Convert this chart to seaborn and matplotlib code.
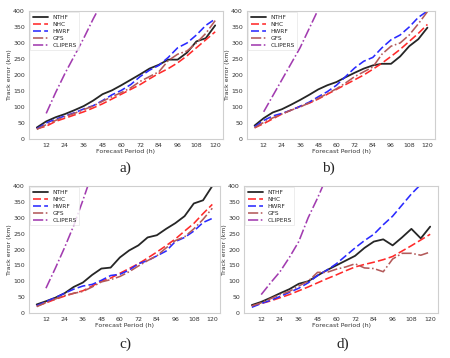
import numpy as np
import pandas as pd
import matplotlib
matplotlib.use("Agg")
import matplotlib.pyplot as plt
import seaborn as sns

hours = [6, 12, 18, 24, 30, 36, 42, 48, 54, 60, 66, 72, 78, 84, 90, 96, 102, 108, 114, 120]
clip_hours = [12, 18, 24, 30, 36, 42, 48, 54]
models = ["NTHF", "NHC", "HWRF", "GFS", "CLIPERS"]
panel_labels = ["a)", "b)", "c)", "d)"]

# Panel a
a_nthf = [36, 55, 68, 78, 90, 103, 120, 140, 152, 168, 185, 202, 220, 232, 248, 248, 270, 305, 315, 355]
a_nhc = [32, 40, 55, 65, 75, 85, 97, 110, 125, 140, 155, 170, 188, 205, 220, 238, 260, 285, 310, 335]
a_hwrf = [32, 50, 62, 72, 82, 94, 104, 120, 138, 152, 170, 195, 215, 230, 255, 285, 300, 325, 355, 375]
a_gfs = [30, 45, 58, 70, 80, 92, 103, 118, 132, 145, 160, 180, 195, 210, 245, 265, 275, 300, 330, 370]
a_clip = [80, 145, 205, 260, 315, 375, 430, 490]

# Panel b
b_nthf = [42, 65, 83, 93, 107, 122, 138, 155, 168, 178, 193, 207, 220, 230, 235, 235, 258, 290, 312, 348]
b_nhc = [35, 48, 63, 78, 90, 102, 112, 125, 140, 155, 170, 185, 200, 218, 237, 258, 280, 305, 330, 358]
b_hwrf = [38, 58, 72, 80, 90, 102, 115, 132, 148, 168, 195, 222, 243, 255, 285, 310, 325, 350, 380, 400]
b_gfs = [35, 52, 66, 78, 90, 100, 113, 127, 142, 157, 175, 195, 210, 225, 265, 290, 300, 325, 360, 398]
b_clip = [85, 135, 185, 235, 285, 345, 405, 465]

# Panel c
c_nthf = [27, 37, 48, 62, 82, 96, 120, 140, 143, 175, 197, 213, 238, 245, 265, 283, 305, 345, 355, 400]
c_nhc = [22, 32, 43, 53, 62, 70, 85, 100, 110, 125, 140, 155, 173, 192, 212, 233, 258, 282, 313, 342]
c_hwrf = [23, 36, 48, 62, 75, 85, 90, 103, 118, 122, 135, 155, 165, 180, 195, 225, 238, 258, 285, 298]
c_gfs = [20, 33, 44, 55, 62, 68, 82, 98, 105, 115, 130, 148, 165, 180, 205, 228, 240, 265, 295, 330]
c_clip = [78, 140, 205, 275, 355, 440, 520, 600]

# Panel d
d_nthf = [25, 35, 48, 62, 75, 92, 100, 118, 135, 150, 165, 180, 205, 225, 232, 213, 238, 265, 235, 272]
d_nhc = [22, 30, 38, 48, 58, 70, 82, 95, 108, 120, 133, 145, 153, 160, 168, 178, 195, 212, 230, 248]
d_hwrf = [18, 30, 40, 52, 65, 78, 95, 118, 135, 155, 180, 205, 228, 248, 278, 305, 340, 375, 405, 435]
d_gfs = [22, 32, 45, 58, 68, 85, 100, 128, 128, 138, 145, 155, 142, 140, 130, 170, 188, 188, 182, 192]
d_clip = [58, 95, 130, 175, 225, 300, 362, 430]

panels = [
    (a_nthf, a_nhc, a_hwrf, a_gfs, a_clip),
    (b_nthf, b_nhc, b_hwrf, b_gfs, b_clip),
    (c_nthf, c_nhc, c_hwrf, c_gfs, c_clip),
    (d_nthf, d_nhc, d_hwrf, d_gfs, d_clip),
]

xticks = [12, 24, 36, 48, 60, 72, 84, 96, 108, 120]
yticks = [0, 50, 100, 150, 200, 250, 300, 350, 400]

sns.set_style("white")
plt.rcParams["font.family"] = ["DejaVu Sans"]

W, H = 450, 358
fig = plt.figure(figsize=(W / 100, H / 100), dpi=100)

# axes rectangles in pixels: left, top, right, bottom
rects = [(29, 11, 223, 139), (247, 11, 435, 139), (29, 186, 220, 313), (244, 186, 438, 313)]
cap_pos = [(125, 168), (328, 168), (125, 344), (343, 344)]

styles = {
    "NTHF": dict(color="#262626", ls="-", lw=1.3),
    "NHC": dict(color="#ff2a2a", ls=(0, (5, 2)), lw=1.15),
    "HWRF": dict(color="#2a2aff", ls=(0, (5, 2)), lw=1.15),
    "GFS": dict(color="#b35a5a", ls="-.", lw=1.15),
    "CLIPERS": dict(color="#a23cb0", ls="-.", lw=1.15),
}

for i, (series, rect, cp) in enumerate(zip(panels, rects, cap_pos)):
    l, t, r, b = rect
    ax = fig.add_axes([l / W, 1 - b / H, (r - l) / W, (b - t) / H])
    for name, vals in zip(models, series):
        xs = clip_hours if name == "CLIPERS" else hours
        df = pd.DataFrame({"h": xs, "err": vals})
        st = styles[name]
        sns.lineplot(data=df, x="h", y="err", ax=ax, color=st["color"],
                     linestyle=st["ls"], linewidth=st["lw"], label=name)
    ax.set_xlim(1, 125)
    ax.set_ylim(0, 400)
    ax.set_xticks(xticks)
    ax.set_yticks(yticks)
    ax.tick_params(axis="both", labelsize=4.5, length=2, width=0.5, pad=1, colors="#333333")
    ax.set_xlabel("Forecast Period (h)", fontsize=4.5, labelpad=0.5, color="#333333")
    ax.set_ylabel("Track error (km)", fontsize=4.5, labelpad=1, color="#333333")
    for sp in ax.spines.values():
        sp.set_color("#cfcfcf")
        sp.set_linewidth(0.8)
    leg = ax.legend(loc="upper left", fontsize=4.2, frameon=True, handlelength=2.6,
                    labelspacing=0.35, borderpad=0.4, handletextpad=0.8,
                    borderaxespad=0.2, fancybox=False)
    leg.get_frame().set_edgecolor("#e0e0e0")
    leg.get_frame().set_linewidth(0.5)
    fig.text(cp[0] / W, 1 - cp[1] / H, panel_labels[i], ha="center", va="center",
             fontsize=11, family=["Liberation Serif", "DejaVu Serif"])

fig.savefig("out.png", dpi=100)
